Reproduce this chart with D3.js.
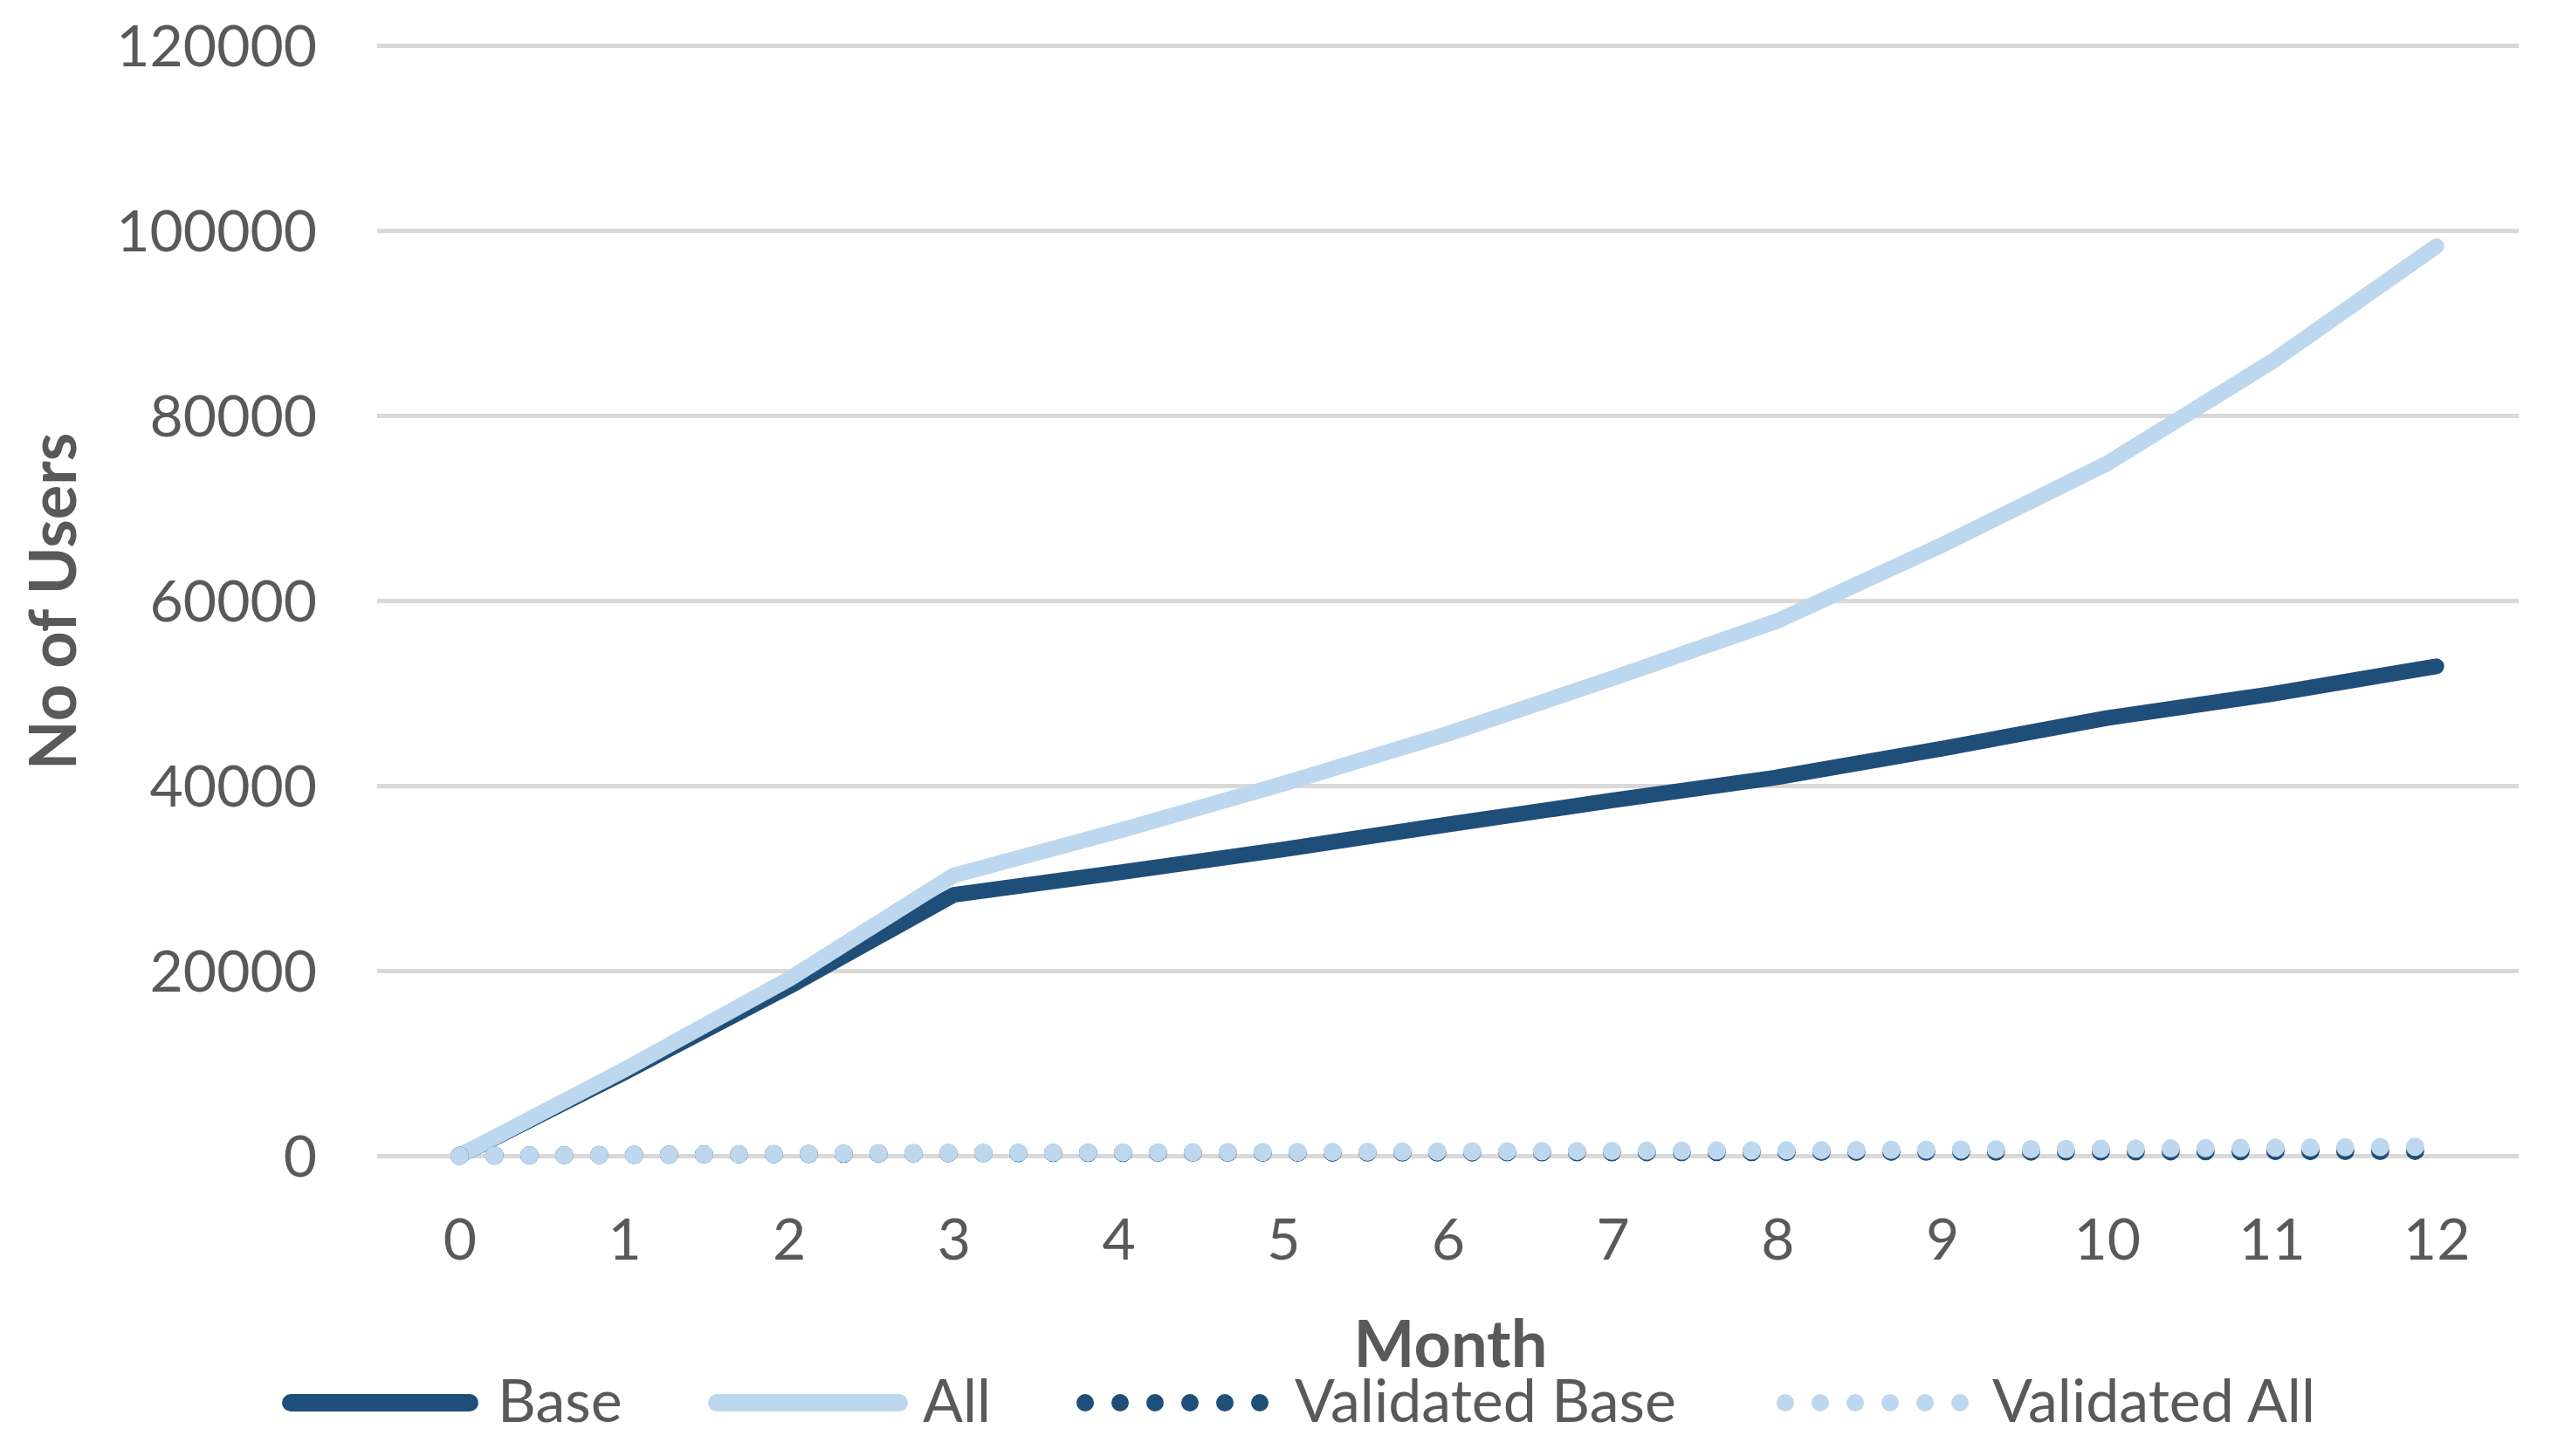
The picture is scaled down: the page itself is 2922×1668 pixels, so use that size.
<!DOCTYPE html>
<html>
<head>
<meta charset="utf-8">
<script src="https://cdn.jsdelivr.net/npm/d3@7"></script>
<style>
  html, body { margin: 0; padding: 0; background: #ffffff; }
  svg { display: block; }
  text { font-family: Lato, "Open Sans", sans-serif; fill: #595959; }
</style>
</head>
<body>
<svg id="chart" width="2922" height="1668"></svg>
<script>
// ---- data ----
const months = [0, 1, 2, 3, 4, 5, 6, 7, 8, 9, 10, 11, 12];
const baseUsers = [0, 9000, 18300, 28200, 30600, 33100, 35800, 38400, 40900, 44000, 47300, 49900, 52900];
const allUsers = [0, 9300, 19100, 30300, 35100, 40200, 45600, 51600, 57800, 66000, 74800, 85800, 98300];
const validatedBase = [0, 90, 180, 280, 310, 330, 360, 380, 410, 440, 470, 500, 530];
const validatedAll = [0, 90, 190, 300, 350, 400, 460, 520, 580, 660, 750, 860, 980];
const yTicks = [0, 20000, 40000, 60000, 80000, 100000, 120000];
const seriesNames = ["Base", "All", "Validated Base", "Validated All"];

// ---- layout ----
const plotLeft = 432, plotRight = 2885, plotTop = 52, plotBottom = 1324;
const dark = "#1F4E79", light = "#BDD7EE";

const svg = d3.select("#chart");

const x = d3.scalePoint().domain(months).range([plotLeft, plotRight]).padding(0.5);
const y = d3.scaleLinear().domain([0, 120000]).range([plotBottom, plotTop]);

// gridlines + y labels
const yAxis = d3.axisLeft(y).tickValues(yTicks).tickSize(-(plotRight - plotLeft)).tickPadding(69).tickFormat(d3.format("d"));
const gy = svg.append("g").attr("transform", `translate(${plotLeft},0)`).call(yAxis);
gy.select(".domain").remove();
gy.selectAll(".tick line").attr("stroke", "#D9D9D9").attr("stroke-width", 5);
gy.selectAll(".tick text").attr("font-size", 66).attr("font-family", "Lato").attr("fill", "#595959").attr("dy", "0.36em");

// x labels
const xAxis = d3.axisBottom(x).tickSize(0).tickPadding(72);
const gx = svg.append("g").attr("transform", `translate(0,${plotBottom})`).call(xAxis);
gx.select(".domain").remove();
gx.selectAll(".tick text").attr("font-size", 66).attr("font-family", "Lato").attr("fill", "#595959");

// lines
const lineStraight = d3.line().x((d, i) => x(months[i])).y(d => y(d));

const series = [
  { name: seriesNames[0], values: baseUsers, color: dark, dotted: false },
  { name: seriesNames[1], values: allUsers, color: light, dotted: false },
  { name: seriesNames[2], values: validatedBase, color: dark, dotted: true },
  { name: seriesNames[3], values: validatedAll, color: light, dotted: true }
];

series.forEach(s => {
  const p = svg.append("path")
    .attr("d", lineStraight(s.values))
    .attr("fill", "none")
    .attr("stroke", s.color)
    .attr("stroke-linecap", "round")
    .attr("stroke-linejoin", "round");
  if (s.dotted) {
    p.attr("stroke-width", 21).attr("stroke-dasharray", "0 40");
  } else {
    p.attr("stroke-width", 18);
  }
});

// axis titles
svg.append("text")
  .attr("x", (plotLeft + plotRight) / 2 + 3)
  .attr("y", 1566)
  .attr("text-anchor", "middle")
  .attr("font-size", 74)
  .attr("font-weight", "bold")
  .text("Month");

svg.append("text")
  .attr("transform", `translate(87,689) rotate(-90)`)
  .attr("text-anchor", "middle")
  .attr("font-size", 74)
  .attr("font-weight", "bold")
  .text("No of Users");

// legend
const legendY = 1607;
const legendItems = [
  { s: series[0], x0: 333, x1: 538, tx: 570 },
  { s: series[1], x0: 821, x1: 1030, tx: 1057 },
  { s: series[2], x0: 1243, x1: 1445, tx: 1483 },
  { s: series[3], x0: 2045, x1: 2247, tx: 2282 }
];
const lg = svg.append("g");
legendItems.forEach(it => {
  const p = lg.append("line")
    .attr("x1", it.x0).attr("x2", it.x1)
    .attr("y1", legendY).attr("y2", legendY)
    .attr("stroke", it.s.color)
    .attr("stroke-width", 20)
    .attr("stroke-linecap", "round");
  if (it.s.dotted) p.attr("stroke-dasharray", "0 40");
  lg.append("text")
    .attr("x", it.tx)
    .attr("y", 1629)
    .attr("font-size", 68)
    .text(it.s.name);
});
</script>
</body>
</html>
